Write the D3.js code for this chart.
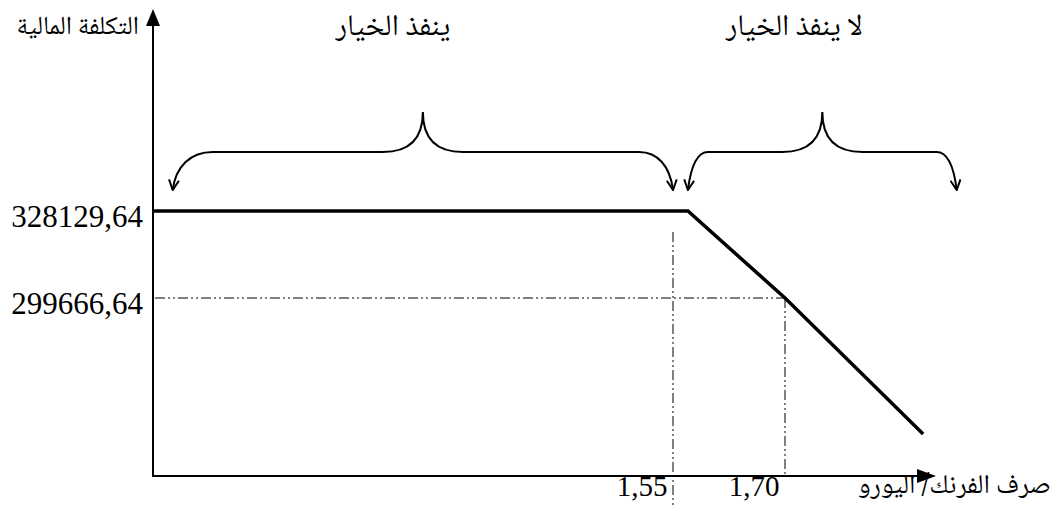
<!DOCTYPE html>
<html>
<head>
<meta charset="utf-8">
<script src="https://cdn.jsdelivr.net/npm/d3@7"></script>
<style>
  body { margin: 0; background: #fff; }
  .num { font-family: "Liberation Serif", "Times New Roman", serif; font-size: 31px; fill: #000; }
  .ar { font-family: "Noto Naskh Arabic", "Amiri", "DejaVu Sans", serif; font-size: 30px; fill: #000; }
</style>
</head>
<body>
<div id="chart"></div>
<script>
// values
const costLevels = [328129.64, 299666.64];   // y tick labels
const rateTicks = [1.55, 1.70];              // x tick labels
const costX = [0.855, 1.57, 1.70, 1.885];    // exchange rate points of the cost line
const costY = [328129.64, 328129.64, 299666.64, 255200];
const yTitle = "التكلفة المالية";
const xTitle = "صرف الفرنك/ اليورو";
const zoneLabels = ["ينفذ الخيار", "لا ينفذ الخيار"];
// zones covered by the braces (rate from / to)
const zoneFrom = [0.88, 1.57];
const zoneTo = [1.55, 1.93];

const W = 1057, H = 506;
const originX = 153, originY = 476;

var svg = d3.select("#chart").append("svg")
    .attr("width", W)
    .attr("height", H);

// scales: set so that the two labelled values land where they do in the picture
var x = d3.scaleLinear().domain([1.55, 1.70]).range([673, 785]);
var y = d3.scaleLinear().domain([299666.64, 328129.64]).range([298, 211]);

var defs = svg.append("defs");
defs.append("marker")
    .attr("id", "open")
    .attr("viewBox", "0 0 12 12")
    .attr("refX", 11).attr("refY", 6)
    .attr("markerWidth", 12).attr("markerHeight", 12)
    .attr("markerUnits", "userSpaceOnUse")
    .attr("orient", "auto-start-reverse")
  .append("path")
    .attr("d", "M1,1 L11,6 L1,11")
    .attr("fill", "none")
    .attr("stroke", "#000")
    .attr("stroke-width", 2);

// axes lines with filled arrow heads
svg.append("line")
    .attr("x1", originX).attr("y1", originY + 1)
    .attr("x2", originX).attr("y2", 22)
    .attr("stroke", "#000").attr("stroke-width", 2);
svg.append("path")
    .attr("d", "M" + originX + ",9 L" + (originX - 7) + ",26 L" + (originX + 7) + ",26 Z")
    .attr("fill", "#000");

svg.append("line")
    .attr("x1", originX - 1).attr("y1", originY)
    .attr("x2", 922).attr("y2", originY)
    .attr("stroke", "#000").attr("stroke-width", 2);
svg.append("path")
    .attr("d", "M936," + originY + " L917," + (originY - 7) + " L917," + (originY + 7) + " Z")
    .attr("fill", "#000");

// y tick labels
var yAxis = svg.append("g")
    .attr("transform", "translate(" + originX + ",0)")
    .call(d3.axisLeft(y)
        .tickValues(costLevels)
        .tickSize(0)
        .tickPadding(10)
        .tickFormat(d => d3.format(".2f")(d).replace(".", ",")));
yAxis.select(".domain").remove();
yAxis.attr("font-family", null).attr("font-size", null);
yAxis.selectAll("text")
    .attr("class", "num")
    .attr("dy", "0.5em");

// x tick labels
var xAxis = svg.append("g")
    .attr("transform", "translate(0," + originY + ")")
    .call(d3.axisBottom(x)
        .tickValues(rateTicks)
        .tickSize(0)
        .tickFormat(d => d3.format(".2f")(d).replace(".", ",")));
xAxis.select(".domain").remove();
xAxis.attr("font-family", null).attr("font-size", null);
xAxis.selectAll("text")
    .attr("class", "num")
    .style("font-size", "29px")
    .attr("text-anchor", "end")
    .attr("y", 20)
    .attr("dy", 0)
    .attr("dx", -6);

// guide lines (dash-dot-dot)
var dash = "10,3,2,3,2,3";
svg.append("line")
    .attr("x1", originX + 2).attr("x2", x(1.70))
    .attr("y1", y(299666.64)).attr("y2", y(299666.64))
    .attr("stroke", "#000").attr("stroke-width", 1)
    .attr("stroke-dasharray", dash);
svg.append("line")
    .attr("x1", x(1.55)).attr("x2", x(1.55))
    .attr("y1", y(328129.64) + 21).attr("y2", H)
    .attr("stroke", "#000").attr("stroke-width", 1)
    .attr("stroke-dasharray", dash);
svg.append("line")
    .attr("x1", x(1.70)).attr("x2", x(1.70))
    .attr("y1", y(299666.64)).attr("y2", originY)
    .attr("stroke", "#000").attr("stroke-width", 1)
    .attr("stroke-dasharray", dash);

// cost line
var pts = costX.map((d, i) => [x(d), y(costY[i])]);
svg.append("path")
    .attr("d", d3.line()(pts))
    .attr("fill", "none")
    .attr("stroke", "#000")
    .attr("stroke-width", 3.5)
    .attr("stroke-linejoin", "miter");

// braces with open arrows at both ends
function brace(x1, x2, endL, endR) {
    var yb = 190, yh = 152, yt = 112;
    var mid = (x1 + x2) / 2;
    var p = d3.path();
    p.moveTo(x1, yb);
    p.bezierCurveTo(x1 + 3, yb - 24, x1 + endL * 0.45, yh, x1 + endL, yh);
    p.lineTo(mid - 40, yh);
    p.bezierCurveTo(mid - 15, yh, mid, yh - 12, mid, yt);
    p.bezierCurveTo(mid, yh - 12, mid + 15, yh, mid + 40, yh);
    p.lineTo(x2 - endR, yh);
    p.bezierCurveTo(x2 - endR * 0.45, yh, x2 - 3, yb - 24, x2, yb);
    return p.toString();
}
var ends = [[40, 34], [20, 20]];
zoneFrom.forEach(function(d, i) {
    svg.append("path")
        .attr("d", brace(x(d), x(zoneTo[i]), ends[i][0], ends[i][1]))
        .attr("fill", "none")
        .attr("stroke", "#000")
        .attr("stroke-width", 2)
        .attr("marker-start", "url(#open)")
        .attr("marker-end", "url(#open)");
    svg.append("text")
        .attr("class", "ar")
        .attr("x", (x(d) + x(zoneTo[i])) / 2 - (i == 0 ? 30 : 28))
        .attr("y", 35)
        .attr("text-anchor", "middle")
        .text(zoneLabels[i]);
});

// axis titles
svg.append("text")
    .attr("class", "ar")
    .style("font-size", "26px")
    .attr("direction", "rtl")
    .attr("text-anchor", "start")
    .attr("x", 139).attr("y", 34)
    .text(yTitle);
svg.append("text")
    .attr("class", "ar")
    .style("font-size", "27px")
    .attr("direction", "rtl")
    .attr("text-anchor", "start")
    .attr("x", 1051).attr("y", 493)
    .text(xTitle);
</script>
</body>
</html>
